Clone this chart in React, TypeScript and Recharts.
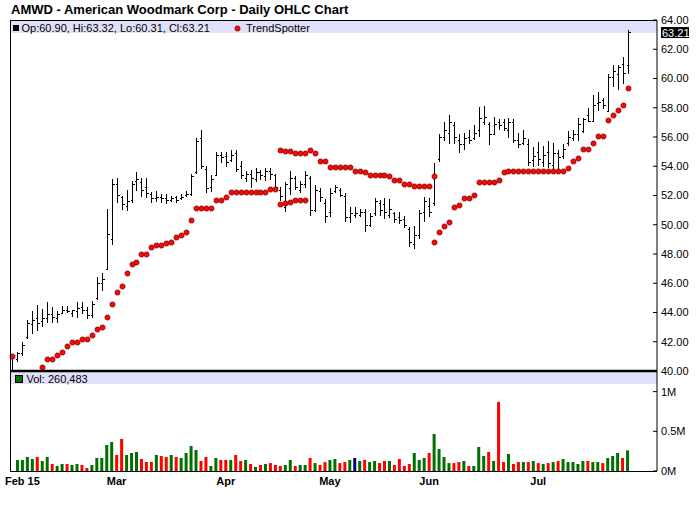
import React from 'react';
import { ComposedChart, BarChart, Bar, Line, XAxis, YAxis, Cell, ReferenceLine } from 'recharts';

const FONT = '"Liberation Sans", Arial, Helvetica, sans-serif';
const __ = null;

// trading calendar
const firstSession = '2015-01-29';
const holidays = ['2015-02-16', '2015-04-03', '2015-05-25', '2015-07-03'];

const opens = [
  40.9, 40.8, 41.2, 42.3, 43.2, 43.6, 43.4, 43.6, 43.9, 43.6,
  44.0, 44.2, 44.0, 44.1, 44.4, 44.2, 43.8, 45.0, 46.0, 47.0,
  49.0, 52.8, 51.9, 51.3, 51.7, 53.0, 52.9, 52.6, 52.1, 51.8,
  51.9, 51.8, 51.7, 51.9, 51.8, 52.0, 52.1, 53.6, 55.9, 53.8,
  52.6, 53.4, 54.8, 54.7, 54.4, 54.9, 54.0, 53.2, 53.5, 53.1,
  53.6, 53.3, 53.7, 53.4, 52.4, 51.2, 52.5, 53.2, 52.4, 52.8,
  53.2, 51.0, 52.3, 51.5, 50.9, 52.3, 52.4, 52.0, 50.5, 50.7,
  50.7, 50.9, 50.0, 50.8, 51.5, 51.4, 50.7, 50.8, 50.5, 50.4,
  49.7, 48.7, 49.3, 50.9, 51.3, 51.5, 54.5, 56.0, 56.3, 56.8,
  55.8, 55.5, 56.0, 55.9, 56.5, 57.0, 56.9, 56.2, 57.0, 57.0,
  56.5, 57.0, 55.8, 55.6, 55.5, 54.4, 55.0, 54.3, 55.0, 54.1,
  54.9, 54.7, 55.6, 55.9, 56.2, 56.4, 57.5, 57.1, 58.3, 58.5,
  57.8, 60.1, 60.3, 61.0, 60.9,
];

const highs = [
  41.1, 41.3, 42.0, 43.5, 44.1, 44.5, 44.25, 44.7, 44.4, 44.1,
  44.45, 44.45, 44.2, 44.7, 44.75, 44.4, 44.8, 46.45, 46.7, 51.1,
  53.1, 53.2, 52.0, 52.4, 53.0, 53.6, 53.2, 53.2, 52.25, 52.3,
  52.1, 52.1, 52.0, 52.0, 52.1, 52.3, 53.5, 55.9, 56.5, 54.0,
  53.4, 55.0, 55.0, 54.95, 55.1, 55.1, 54.35, 53.65, 53.75, 53.85,
  53.75, 53.85, 53.85, 53.5, 52.55, 52.95, 53.65, 53.35, 53.0, 53.65,
  53.35, 52.7, 52.5, 51.75, 52.5, 52.75, 52.5, 52.2, 51.2, 51.2,
  51.05, 51.1, 50.8, 51.85, 51.7, 51.85, 51.75, 50.85, 50.9, 50.6,
  49.85, 49.9, 51.0, 51.9, 51.85, 54.25, 56.2, 57.0, 57.5, 57.05,
  56.2, 56.3, 56.5, 56.85, 58.05, 58.1, 57.05, 57.4, 57.25, 57.25,
  57.3, 57.25, 56.25, 56.5, 55.85, 55.35, 55.65, 55.4, 55.7, 55.6,
  55.1, 55.55, 56.4, 56.45, 57.3, 57.3, 58.0, 58.85, 59.05, 58.65,
  60.3, 60.95, 60.95, 61.5, 63.32,
];

const lows = [
  40.0, 40.6, 41.0, 42.2, 42.5, 42.75, 43.0, 43.25, 43.3, 43.3,
  43.9, 43.95, 43.7, 43.6, 43.9, 43.55, 43.65, 44.85, 45.5, 46.9,
  48.6, 51.5, 51.0, 50.95, 51.5, 52.3, 51.9, 51.8, 51.5, 51.55,
  51.5, 51.4, 51.55, 51.5, 51.7, 51.9, 52.0, 53.5, 53.8, 52.2,
  52.25, 53.3, 54.25, 53.95, 54.3, 53.6, 53.1, 52.9, 52.5, 52.9,
  53.05, 53.0, 53.05, 52.4, 51.65, 50.9, 52.05, 52.4, 52.2, 52.5,
  50.6, 50.85, 51.55, 50.1, 50.55, 52.15, 51.9, 50.2, 50.1, 50.45,
  50.55, 49.5, 49.85, 50.6, 50.6, 50.4, 50.45, 50.15, 50.05, 49.8,
  48.5, 48.35, 49.05, 50.2, 50.5, 51.3, 54.3, 55.7, 55.55, 55.55,
  54.9, 55.1, 55.55, 55.8, 56.0, 56.85, 55.45, 56.15, 56.5, 56.4,
  55.95, 55.6, 55.25, 55.45, 54.05, 53.95, 54.05, 53.95, 53.85, 53.8,
  53.7, 54.5, 55.4, 55.7, 55.7, 56.25, 57.05, 57.05, 57.8, 57.9,
  57.75, 59.4, 59.2, 59.65, 60.31,
];

const closes = [
  41.0, 41.2, 41.8, 43.3, 43.5, 43.3, 43.6, 43.9, 43.7, 43.9,
  44.2, 44.1, 44.15, 44.3, 44.2, 43.8, 44.6, 46.0, 46.3, 49.4,
  52.8, 52.0, 51.4, 51.6, 52.8, 53.1, 52.4, 52.2, 51.8, 51.9,
  51.8, 51.7, 51.8, 51.7, 51.9, 52.1, 53.3, 55.7, 54.0, 52.5,
  53.1, 54.8, 54.6, 54.3, 54.8, 53.8, 53.4, 53.5, 53.2, 53.6,
  53.4, 53.7, 53.5, 52.6, 52.0, 52.8, 53.2, 52.6, 52.8, 53.4,
  51.0, 52.4, 51.9, 50.6, 52.2, 52.6, 52.0, 50.5, 50.8, 50.8,
  50.9, 50.0, 50.6, 51.6, 51.0, 50.9, 51.1, 50.4, 50.3, 50.0,
  48.8, 49.3, 50.8, 51.6, 50.9, 53.4, 56.0, 56.5, 57.0, 56.0,
  55.5, 55.9, 55.8, 56.3, 57.3, 57.4, 56.2, 56.9, 56.8, 56.6,
  57.0, 55.8, 55.5, 55.9, 54.3, 54.7, 54.5, 54.8, 54.2, 54.9,
  54.6, 55.2, 56.0, 56.2, 56.9, 57.25, 57.1, 58.2, 58.4, 58.2,
  60.1, 60.5, 60.8, 60.4, 63.21,
];

const volumes = [
  __, 139000, 139000, 177000, 151000, 177000, 126000, 177000, 88000, 63000,
  88000, 88000, 76000, 88000, 76000, 38000, 76000, 164000, 164000, 328000,
  366000, 202000, 404000, 202000, 227000, 240000, 151000, 113000, 113000, 202000,
  189000, 177000, 202000, 177000, 164000, 227000, 315000, 265000, 126000, 177000,
  63000, 164000, 139000, 139000, 139000, 202000, 126000, 139000, 88000, 50000,
  76000, 88000, 100000, 76000, 63000, 76000, 139000, 63000, 76000, 76000,
  164000, 100000, 76000, 113000, 139000, 151000, 100000, 113000, 139000, 164000,
  126000, 139000, 113000, 126000, 100000, 126000, 126000, 76000, 151000, 63000,
  88000, 227000, 139000, 164000, 227000, 466000, 277000, 177000, 100000, 100000,
  113000, 126000, 63000, 63000, 303000, 189000, 240000, 126000, 870000, 113000,
  214000, 88000, 113000, 113000, 113000, 126000, 100000, 88000, 100000, 113000,
  126000, 151000, 113000, 113000, 88000, 126000, 126000, 113000, 113000, 100000,
  164000, 189000, 227000, 164000, 260483,
];

const trendSpotter = [
  41.03, __, __, __, __, __, 40.3, 40.8, 40.8, 41.07,
  41.28, 41.71, 41.96, 42.0, 42.17, 42.17, 42.46, 42.85, 42.99, 43.67,
  44.56, 45.42, 45.8, 46.68, 47.3, 47.43, 47.98, 47.98, 48.5, 48.59,
  48.59, 48.73, 48.8, 49.14, 49.28, 49.48, 50.32, 51.12, 51.12, 51.12,
  51.12, 51.67, 51.67, 51.87, 52.22, 52.22, 52.22, 52.22, 52.22, 52.22,
  52.22, 52.22, 52.42, 52.42, 51.4, 51.46, 51.53, 51.69, 51.69, 51.69,
  __, __, __, __, __, __, __, __, __, __,
  __, __, __, __, __, __, __, __, __, __,
  __, __, __, __, __, 48.8, 49.48, 49.89, 50.17, 51.19,
  51.33, 51.8, 51.85, 52.01, 52.9, 52.9, 52.9, 52.9, 53.04, 53.58,
  53.65, 53.65, 53.65, 53.65, 53.65, 53.65, 53.65, 53.65, 53.65, 53.65,
  53.65, 53.65, 53.88, 54.34, 54.56, 55.16, 55.16, 55.57, 56.05, 56.05,
  57.14, 57.48, 57.83, 58.17, 59.33,
];

const trendSpotterUpper = [
  __, __, __, __, __, __, __, __, __, __,
  __, __, __, __, __, __, __, __, __, __,
  __, __, __, __, __, __, __, __, __, __,
  __, __, __, __, __, __, __, __, __, __,
  __, __, __, __, __, __, __, __, __, __,
  __, __, __, __, 55.09, 55.02, 55.02, 54.88, 54.88, 54.88,
  55.09, 54.88, 54.34, 54.34, 53.93, 53.93, 53.93, 53.93, 53.93, 53.65,
  53.65, 53.58, 53.38, 53.38, 53.38, 53.38, 53.31, 53.04, 53.04, 52.76,
  52.76, 52.63, 52.63, 52.63, 52.63, 53.31, __, __, __, __,
  __, __, __, __, __, __, __, __, __, __,
  __, __, __, __, __, __, __, __, __, __,
  __, __, __, __, __, __, __, __, __, __,
  __, __, __, __, __,
];

const monthTickDates = ['2015-02-02', '2015-03-02', '2015-04-01', '2015-05-01', '2015-06-01', '2015-07-01'];
const monthTickLabels = ['Feb 15', 'Mar', 'Apr', 'May', 'Jun', 'Jul'];
const priceTicks = [40, 42, 44, 46, 48, 50, 52, 54, 56, 58, 60, 62, 64];
const volumeTicks = [0, 500000, 1000000];

const UP = '#007000';
const DOWN = '#ff0000';
const FLAT = '#000080';
const BAND = '#e0e0f8';
const DOT_FILL = '#f20d0d';
const DOT_EDGE = '#8c0000';

function sessionDates(count: number) {
  const out: string[] = [];
  const d = new Date(firstSession + 'T00:00:00Z');
  while (out.length < count) {
    const iso = d.toISOString().slice(0, 10);
    const wd = d.getUTCDay();
    if (wd !== 0 && wd !== 6 && !holidays.includes(iso)) out.push(iso);
    d.setUTCDate(d.getUTCDate() + 1);
  }
  return out;
}

const data = sessionDates(closes.length).map((date, i) => ({
  date,
  open: opens[i],
  high: highs[i],
  low: lows[i],
  close: closes[i],
  range: [lows[i], highs[i]],
  trend: trendSpotter[i],
  trendUpper: trendSpotterUpper[i],
  volume: volumes[i],
  change: i === 0 ? 1 : Math.sign(Math.round((closes[i] - closes[i - 1]) * 100)),
}));

const last = data[data.length - 1];

// small plus-shaped marker, snapped to the pixel grid
const plusPath = (x: number, y: number) => {
  const cx = Math.round(x) + 0.5;
  const cy = Math.round(y) + 0.5;
  return `M${cx - 1.5},${cy - 2.5}h3v1h1v3h-1v1h-3v-1h-1v-3h1z`;
};

const OhlcBar = (props: any) => {
  const { x, y, width, height, payload } = props;
  if (!payload || x == null || y == null) return <g />;
  const top = Math.min(y, y + height);
  const bottom = Math.max(y, y + height);
  const span = payload.high - payload.low || 1;
  const toY = (v: number) => top + ((payload.high - v) / span) * (bottom - top);
  const cx = Math.round(x + width / 2) + 0.5;
  const oy = Math.round(toY(payload.open)) + 0.5;
  const cy = Math.round(toY(payload.close)) + 0.5;
  return (
    <g shapeRendering="crispEdges">
      <line x1={cx} x2={cx} y1={top} y2={bottom} stroke="#000" strokeWidth={1} />
      <line x1={cx - 2} x2={cx} y1={oy} y2={oy} stroke="#000" strokeWidth={1} />
      <line x1={cx} x2={cx + 2} y1={cy} y2={cy} stroke="#000" strokeWidth={1} />
    </g>
  );
};

const renderTrendDot = (props: any) => {
  const { cx, cy, value, index, dataKey } = props;
  const key = `${dataKey}-${index}`;
  if (value == null || cx == null || cy == null) return <g key={key} />;
  return (
    <path key={key} d={plusPath(cx, cy)} fill={DOT_FILL} stroke={DOT_EDGE} strokeWidth={0.6} />
  );
};

const RightTick = (props: any) => {
  const { x, y, payload, format } = props;
  return (
    <g>
      <line x1={x - 8} x2={x - 4} y1={y} y2={y} stroke="#000" />
      <text x={x} y={y} dy="0.36em" fontSize={11} fontFamily={FONT} fill="#000" textAnchor="start">
        {format(payload.value)}
      </text>
    </g>
  );
};

const LastPriceTag = (props: any) => {
  const { viewBox, price } = props;
  if (!viewBox) return <g />;
  const right = viewBox.x + viewBox.width;
  const cy = viewBox.y + 1;
  return (
    <g>
      <rect x={right + 4} y={cy - 5.5} width={28} height={11} fill="#000" />
      <text x={right + 5} y={cy} dy="0.36em" fontSize={11} fontFamily={FONT} fill="#fff">
        {price}
      </text>
    </g>
  );
};

const fmtPrice = (v: number) => v.toFixed(2);
const fmtVolume = (v: number) => `${v / 1000000}M`;
const fmtMonth = (d: string) => monthTickLabels[monthTickDates.indexOf(d)] ?? '';
const volColor = (c: number) => (c > 0 ? UP : c < 0 ? DOWN : FLAT);

const App: React.FC = () => {
  const legend = `Op:${last.open.toFixed(2)}, Hi:${last.high.toFixed(2)}, Lo:${last.low.toFixed(2)}, Cl:${last.close.toFixed(2)}`;
  return (
    <div style={{ position: 'absolute', left: 0, top: 0, width: 700, height: 512, background: '#fff', fontFamily: FONT }}>
      {/* bands, title and legends underneath the charts */}
      <svg width={700} height={512} style={{ position: 'absolute', left: 0, top: 0 }}>
        <rect x={10} y={20} width={647} height={13} fill={BAND} />
        <rect x={10} y={371} width={647} height={13} fill={BAND} />
        <text x={11} y={13.5} fontSize={13} fontWeight="bold" fontFamily={FONT} fill="#000">
          AMWD - American Woodmark Corp - Daily OHLC Chart
        </text>
        <rect x={13} y={25} width={6} height={6} fill="#000" />
        <text x={21.5} y={31.5} fontSize={11} fontFamily={FONT} fill="#000">{legend}</text>
        <path d={plusPath(237, 28)} fill={DOT_FILL} stroke={DOT_EDGE} strokeWidth={0.6} />
        <text x={246} y={31.5} fontSize={11} fontFamily={FONT} fill="#000">TrendSpotter</text>
        <rect x={15.5} y={375.5} width={7} height={7} fill={UP} stroke="#000" />
        <text x={26.5} y={382.5} fontSize={11} fontFamily={FONT} fill="#000">
          {`Vol: ${(last.volume as number).toLocaleString('en-US')}`}
        </text>
      </svg>

      <div style={{ position: 'absolute', left: 0, top: 0 }}>
        <ComposedChart width={700} height={380} data={data} margin={{ top: 20, right: 0, bottom: 9, left: 10 }}>
          <XAxis dataKey="date" hide padding={{ left: 0, right: 27 }} />
          <YAxis
            orientation="right"
            width={43}
            domain={[40, 64]}
            ticks={priceTicks}
            interval={0}
            allowDataOverflow
            axisLine={{ stroke: '#000' }}
            tickLine={false}
            tickSize={0}
            tickMargin={4}
            tick={<RightTick format={fmtPrice} />}
          />
          <Bar dataKey="range" shape={(p: any) => <OhlcBar {...p} />} isAnimationActive={false} />
          <Line dataKey="trend" stroke="none" dot={renderTrendDot} activeDot={false} isAnimationActive={false} />
          <Line dataKey="trendUpper" stroke="none" dot={renderTrendDot} activeDot={false} isAnimationActive={false} />
          <ReferenceLine y={last.close} stroke="none" label={<LastPriceTag price={last.close.toFixed(2)} />} />
        </ComposedChart>
      </div>

      <div style={{ position: 'absolute', left: 0, top: 371 }}>
        <BarChart width={700} height={130} data={data} margin={{ top: 0, right: 0, bottom: 0, left: 10 }}>
          <XAxis
            dataKey="date"
            ticks={monthTickDates}
            interval={0}
            tickFormatter={fmtMonth}
            padding={{ left: 0, right: 27 }}
            axisLine={false}
            tickLine={false}
            tickSize={0}
            tickMargin={6}
            height={30}
            tick={{ fontSize: 11, fontWeight: 'bold', fill: '#000', fontFamily: FONT }}
          />
          <YAxis
            orientation="right"
            width={43}
            domain={[0, 1260000]}
            ticks={volumeTicks}
            interval={0}
            allowDataOverflow
            axisLine={{ stroke: '#000' }}
            tickLine={false}
            tickSize={0}
            tickMargin={4}
            tick={<RightTick format={fmtVolume} />}
          />
          <Bar dataKey="volume" barSize={3} isAnimationActive={false}>
            {data.map((d) => (
              <Cell key={d.date} fill={volColor(d.change)} />
            ))}
          </Bar>
        </BarChart>
      </div>

      {/* panel frame on top */}
      <svg width={700} height={512} style={{ position: 'absolute', left: 0, top: 0, pointerEvents: 'none' }}>
        <line x1={10} x2={657} y1={20.5} y2={20.5} stroke="#000" />
        <line x1={10.5} x2={10.5} y1={20} y2={472} stroke="#000" />
        <line x1={10} x2={657} y1={371} y2={371} stroke="#000" strokeWidth={2.5} />
        <line x1={10} x2={657} y1={471.5} y2={471.5} stroke="#000" />
      </svg>
    </div>
  );
};

export default App;
